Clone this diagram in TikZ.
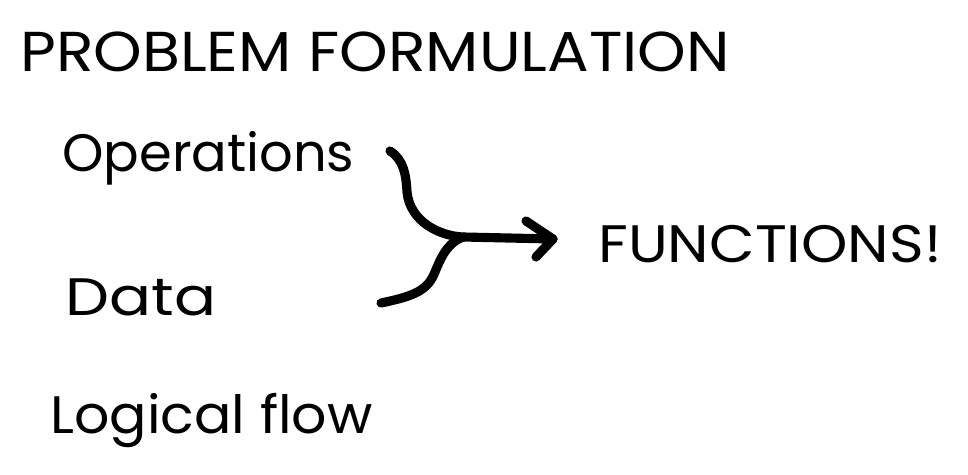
\documentclass[tikz,border=0pt]{standalone}
\usepackage{fontspec}
\setmainfont{Poppins}
\usetikzlibrary{arrows.meta,positioning,calc}
\definecolor{skink}{HTML}{000000}
\newcommand{\widen}[2]{\scalebox{#1}[1]{#2}}
\tikzset{
  txt/.style={anchor=west, inner sep=0pt, text=skink, font=\fontsize{30}{36}\selectfont},
  ttl/.style={txt, font=\fontsize{32}{38}\selectfont},
  pen/.style={draw=skink, line width=5.2pt, line cap=round, line join=round},
}
\begin{document}
\begin{tikzpicture}[x=0.02cm, y=-0.02cm]
    \useasboundingbox (0,0) rectangle (968,475);
    % heading
    \node[ttl] (pf) at (20,52) {\widen{1.1}{PROBLEM FORMULATION}};
    % inputs
    \node[txt] (ops) at (62,158) {Operations};
    \node[txt] (dat) at (65,297) {\widen{1.18}{Data}};
    \node[txt] (lf) at (50,420) {\widen{1.05}{Logical flow}};
    % result
    \node[txt] (fn) at (598,244) {\widen{1.12}{FUNCTIONS!}};
    % merging strokes
    \coordinate (opsend) at (390,151);
    \coordinate (datend) at (381,303);
    \coordinate (join) at (463,237);
    \coordinate (tip) at (553,239);
    \draw[pen] (opsend) .. controls (404,160) and (406,175) .. (407,192)
      .. controls (410,222) and (440,236) .. (join) -- (tip);
    \draw[pen] (datend) .. controls (415,296) and (428,290) .. (435,272)
      .. controls (443,252) and (450,242) .. (join);
    \draw[pen] (tip) ++(-27,-18) -- (tip) -- ++(-17,18);
  \end{tikzpicture}
\end{document}
